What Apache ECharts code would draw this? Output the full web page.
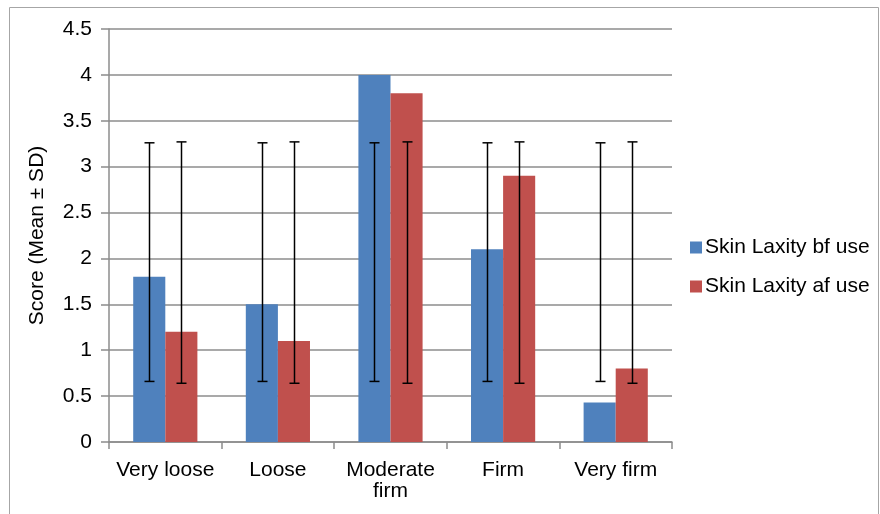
<!DOCTYPE html>
<html>
<head>
<meta charset="utf-8">
<script src="https://cdn.jsdelivr.net/npm/echarts@6/dist/echarts.min.js"></script>
<style>html,body{margin:0;padding:0;background:#fff}#c{width:880px;height:514px}</style>
</head>
<body>
<div id="c"></div>
<script>
const categories = ['Very loose', 'Loose', 'Moderate\nfirm', 'Firm', 'Very firm'];
const bfValues = [1.8, 1.5, 4.0, 2.1, 0.43];
const afValues = [1.2, 1.1, 3.8, 2.9, 0.8];
const bfErrLow = [0.66, 0.66, 0.66, 0.66, 0.66];
const bfErrHigh = [3.26, 3.26, 3.26, 3.26, 3.26];
const afErrLow = [0.64, 0.64, 0.64, 0.64, 0.64];
const afErrHigh = [3.27, 3.27, 3.27, 3.27, 3.27];
const seriesNames = ['Skin Laxity bf use', 'Skin Laxity af use'];

const FONT = 'Liberation Sans, Arial, sans-serif';
const GAP = 0.43;

function errSeries(low, high, side) {
  return {
    type: 'custom',
    silent: true,
    z: 10,
    data: categories.map((c, i) => [i, low[i], high[i]]),
    encode: { x: 0, y: [1, 2] },
    renderItem: function (params, api) {
      const i = api.value(0);
      const band = api.size([1, 0])[0];
      const bw = band * (1 - GAP) / 2;
      const lo = api.coord([i, api.value(1)]);
      const hi = api.coord([i, api.value(2)]);
      const x = Math.round(lo[0] + side * bw / 2) + 0.5;
      const cap = 5;
      const st = { stroke: '#000', lineWidth: 1.5 };
      return {
        type: 'group',
        children: [
          { type: 'line', shape: { x1: x, y1: hi[1], x2: x, y2: lo[1] }, style: st },
          { type: 'line', shape: { x1: x - cap, y1: hi[1], x2: x + cap, y2: hi[1] }, style: st },
          { type: 'line', shape: { x1: x - cap, y1: lo[1], x2: x + cap, y2: lo[1] }, style: st }
        ]
      };
    }
  };
}

const chart = echarts.init(document.getElementById('c'));
chart.setOption({
  animation: false,
  backgroundColor: '#fff',
  graphic: [{
    type: 'rect',
    shape: { x: 9.5, y: 7.5, width: 869, height: 520 },
    style: { fill: 'none', stroke: '#a6a6a6', lineWidth: 1 },
    silent: true
  }],
  grid: { left: 109, right: 208, top: 29, bottom: 72 },
  legend: {
    data: seriesNames,
    orient: 'vertical',
    left: 685,
    top: 232,
    itemWidth: 12,
    itemHeight: 12,
    itemGap: 18,
    icon: 'rect',
    textStyle: { fontFamily: FONT, fontSize: 21, color: '#000', padding: [0, 0, 0, -2] }
  },
  xAxis: {
    type: 'category',
    data: categories,
    axisLine: { lineStyle: { color: '#8c8c8c', width: 1.5 } },
    axisTick: { show: true, length: 7, lineStyle: { color: '#8c8c8c', width: 1.5 } },
    axisLabel: { fontFamily: FONT, fontSize: 21, color: '#000', margin: 18, lineHeight: 21, interval: 0 }
  },
  yAxis: {
    type: 'value',
    min: 0,
    max: 4.5,
    interval: 0.5,
    name: 'Score (Mean ± SD)',
    nameLocation: 'middle',
    nameGap: 61,
    nameTextStyle: { fontFamily: FONT, fontSize: 21, color: '#000' },
    axisLine: { show: true, lineStyle: { color: '#8c8c8c', width: 1.5 } },
    axisTick: { show: true, length: 8, lineStyle: { color: '#8c8c8c', width: 1.5 } },
    axisLabel: { fontFamily: FONT, fontSize: 21, color: '#000', margin: 17 },
    splitLine: { lineStyle: { color: '#8c8c8c', width: 1.5 } }
  },
  series: [
    { name: seriesNames[0], type: 'bar', data: bfValues, barGap: '0%', barCategoryGap: '43%',
      itemStyle: { color: '#4F81BD' } },
    { name: seriesNames[1], type: 'bar', data: afValues, barGap: '0%', barCategoryGap: '43%',
      itemStyle: { color: '#C0504D' } },
    errSeries(bfErrLow, bfErrHigh, -1),
    errSeries(afErrLow, afErrHigh, 1)
  ]
});
</script>
</body>
</html>
